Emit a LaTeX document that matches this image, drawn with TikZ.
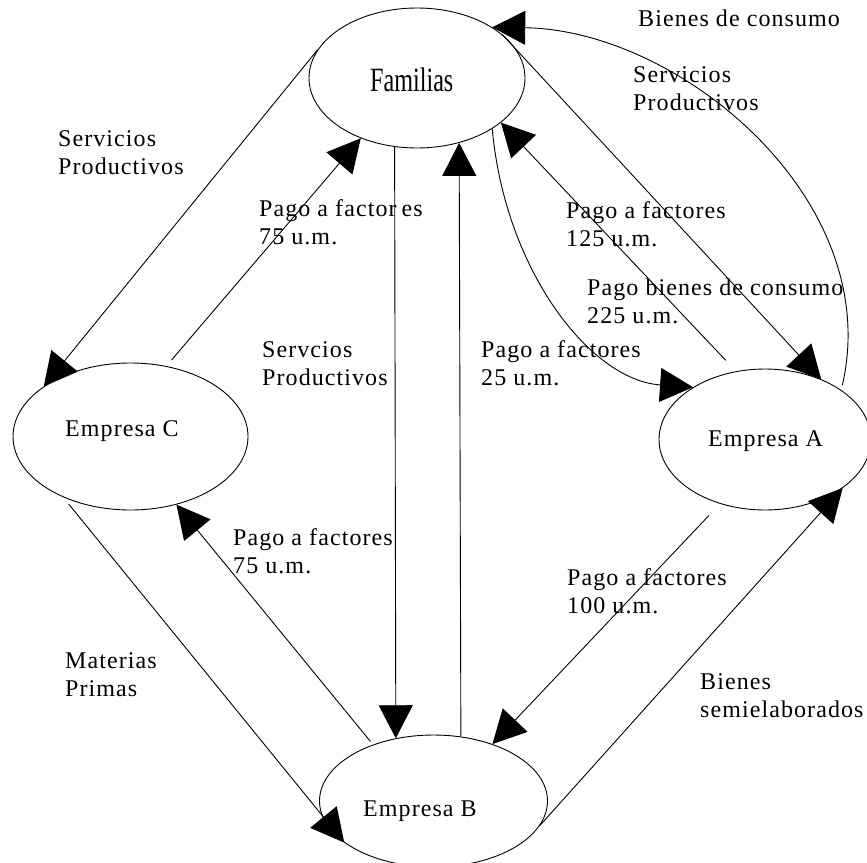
\documentclass[tikz,border=0pt]{standalone}
\usepackage{fontspec}
\usepackage{graphicx}
\setmainfont{Liberation Serif}
\newfontfamily\lblfont[LetterSpace=4.5]{Liberation Serif}
\usetikzlibrary{arrows.meta,shapes.geometric}

\begin{document}
\begin{tikzpicture}[x=1pt,y=-1pt,
  entity/.style={draw, ellipse, line width=0.9pt, inner sep=0pt},
  flow/.style={-{Triangle[length=33pt,width=34pt]}, line width=0.9pt},
  lbl/.style={anchor=base west, inner sep=0pt, align=left,
              font=\lblfont\fontsize{24}{27.5}\selectfont},
]
\useasboundingbox (0,0) rectangle (867,862);

% agents of the economy
\node[entity, minimum width=216pt, minimum height=140pt] (fam) at (417,78) {};
\node[entity, minimum width=235pt, minimum height=147pt] (ec) at (130.5,436.5) {};
\node[entity, minimum width=212pt, minimum height=141pt] (ea) at (765,439.5) {};
\node[entity, minimum width=228pt, minimum height=132pt] (eb) at (433.5,801) {};

% their names
\node[anchor=base west, inner sep=0pt, font=\fontsize{34}{34}\selectfont] (famtxt) at (370,91.7) {\scalebox{0.71}[1]{Familias}};
\node[lbl] (ectxt) at (65,436.7) {Empresa C};
\node[lbl] (eatxt) at (708,446) {Empresa A};
\node[lbl] (ebtxt) at (363,816) {Empresa B};

% flows between families and firms
\draw[flow] (fam.164.5) -- (ec.150.3);
\draw[flow, shorten <=8pt] (ec.63.6) -- (fam.227.8);
\draw[flow] (fam.252.2) -- (eb.121.8);
\draw[flow] (eb.67.6) -- (fam.303.8);
\draw[flow, shorten <=4pt] (eb.137.1) -- (ec.304.2);
\draw[flow, shorten <=9pt] (ec.222.1) -- (eb.205.5);
\draw[flow, shorten <=16pt] (ea.235.6) -- (eb.44.8);
\draw[flow] (eb.347.5) -- (ea.328.7);
\draw[flow] (fam.326.9) .. controls (505,270) and (590,380) .. (ea.144);
\draw[flow, shorten <=15pt] (ea.113.2) -- (fam.332.6);
\draw[flow] (fam.27.1) -- (ea.47);
\draw[flow, shorten <=5pt] (ea.33.9) .. controls (885,200) and (680,30) .. (fam.34.4);

% flow labels
\node[lbl] (l1) at (638,27) {Bienes de consumo};
\node[lbl] (l2) at (633,110) {Servicios\\Productivos};
\node[lbl] (l3) at (58,174) {Servicios\\Productivos};
\node[lbl] (l4) at (259,244) {Pago a factor\kern5pt es\\75 u.m.};
\node[lbl] (l5) at (262,385) {Servcios\\Productivos};
\node[lbl] (l6) at (481,385) {Pago a factores\\25 u.m.};
\node[lbl] (l7) at (566,246) {Pago a factores\\125 u.m.};
\node[lbl] (l8) at (587,323) {Pago bienes de consumo\\225 u.m.};
\node[lbl] (l9) at (233,573) {Pago a factores\\75 u.m.};
\node[lbl] (l10) at (567,613) {Pago a factores\\100 u.m.};
\node[lbl] (l11) at (700,717) {Bienes\\semielaborados};
\node[lbl] (l12) at (65,696) {Materias\\Primas};
\end{tikzpicture}
\end{document}
